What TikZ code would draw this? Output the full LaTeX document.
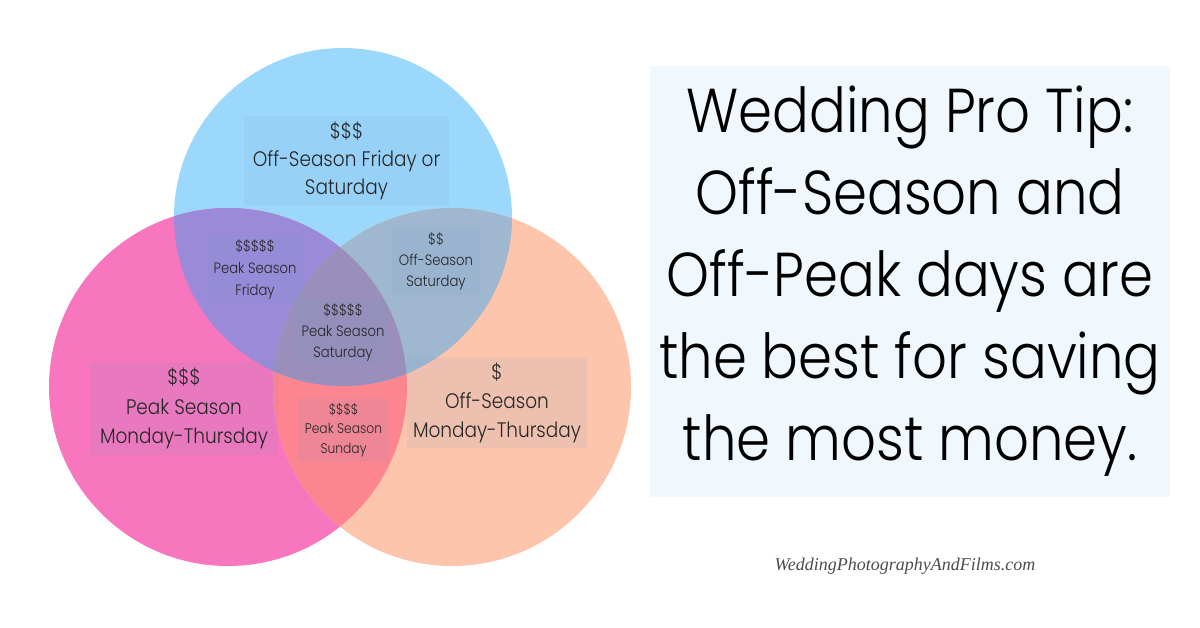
\documentclass[tikz,border=0pt]{standalone}
\usepackage{fontspec}
\setmainfont{Poppins}[UprightFont={* Light}, FakeStretch=0.88]
\newfontfamily\signfont{Liberation Serif}
\usepackage{tikz}
\definecolor{blueC}{RGB}{156,216,252}
\definecolor{pinkC}{RGB}{247,118,189}
\definecolor{orangeC}{RGB}{253,197,171}
\definecolor{bpC}{RGB}{154,138,216}
\definecolor{boC}{RGB}{159,184,207}
\definecolor{poC}{RGB}{253,133,143}
\definecolor{allC}{RGB}{154,143,186}
\definecolor{boxtint}{RGB}{110,150,215}
\definecolor{tipbg}{RGB}{240,248,254}

\begin{document}
\begin{tikzpicture}[x=1pt, y=-1pt,
    labelbox/.style={fill=boxtint, fill opacity=0.1, text opacity=1, inner sep=0pt, align=center, text=black!85}]
    \useasboundingbox (0,0) rectangle (1200,628);
    \coordinate (B) at (343,217);
    \coordinate (P) at (228,387);
    \coordinate (O) at (452,387);

    % circles
    \fill[blueC] (B) circle (169);
    \fill[pinkC] (P) circle (179);
    \fill[orangeC] (O) circle (179);
    \begin{scope}
        \clip (P) circle (179);
        \fill[poC] (O) circle (179);
    \end{scope}
    \begin{scope}
        \clip (B) circle (169);
        \fill[bpC] (P) circle (179);
        \fill[boC] (O) circle (179);
        \clip (P) circle (179);
        \fill[allC] (O) circle (179);
    \end{scope}

    % labels
    \node[labelbox, minimum width=205, minimum height=89, font=\fontsize{21}{28}\selectfont] (offfri) at (346.5,160.5) {\$\$\$\\Off-Season Friday or\\Saturday};
    \node[labelbox, minimum width=100, minimum height=68, font=\fontsize{15}{22}\selectfont] (peakfri) at (255,269) {\$\$\$\$\$\\Peak Season\\Friday};
    \node[labelbox, minimum width=88, minimum height=67, font=\fontsize{15}{21}\selectfont] (offsat) at (436,261.5) {\$\$\\Off-Season\\Saturday};
    \node[labelbox, minimum width=90, minimum height=65, font=\fontsize{15}{21}\selectfont] (peaksat) at (343,332.5) {\$\$\$\$\$\\Peak Season\\Saturday};
    \node[labelbox, minimum width=188, minimum height=93, font=\fontsize{21}{29.5}\selectfont] (peakweek) at (184,408.5) {\$\$\$\\Peak Season\\Monday-Thursday};
    \node[labelbox, minimum width=91, minimum height=64, font=\fontsize{14}{19.5}\selectfont] (peaksun) at (343.5,430) {\$\$\$\$\\Peak Season\\Sunday};
    \node[labelbox, minimum width=180, minimum height=91, font=\fontsize{21}{29}\selectfont] (offweek) at (497,402.5) {\$\\Off-Season\\Monday-Thursday};

    % tip
    \node[fill=tipbg, minimum width=520, minimum height=431, align=center, font=\fontsize{62}{82}\selectfont] (tip) at (910,281.5)
        {Wedding Pro Tip:\\Off-Season and\\Off-Peak days are\\the best for saving\\the most money.};
    \node[text=black!70, font=\signfont\itshape\fontsize{18}{18}\selectfont] (sign) at (905,566) {WeddingPhotographyAndFilms.com};
\end{tikzpicture}
\end{document}
